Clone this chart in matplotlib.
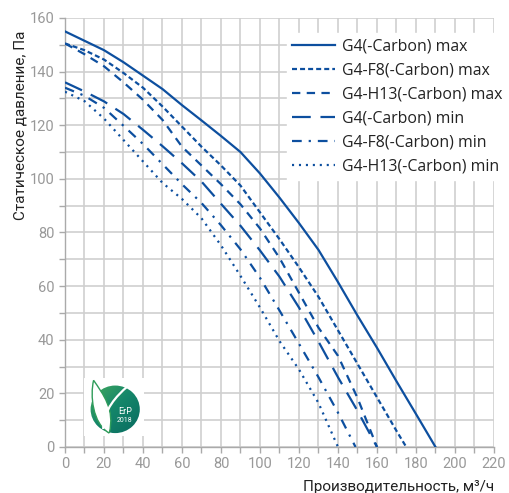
import numpy as np
import matplotlib
matplotlib.use("Agg")
import matplotlib.pyplot as plt
from matplotlib.patches import Circle, PathPatch
from matplotlib.path import Path

# Chart data
flow_g4_max = [0, 10, 20, 30, 40, 50, 60, 70, 80, 90, 100, 110, 120, 130, 140, 150, 160, 170, 180, 190]
pres_g4_max = [155, 151.5, 148, 143.5, 138.5, 133.5, 127.5, 121.8, 116, 110, 102, 93, 83.5, 73.5, 61.5, 49, 37, 24.5, 12.3, 0]

flow_f8_max = [0, 10, 20, 30, 40, 50, 60, 70, 80, 90, 100, 110, 120, 130, 140, 150, 160, 170, 175]
pres_f8_max = [150.5, 148, 144.5, 139.5, 134, 127, 119.5, 112, 105, 97.5, 87.5, 77.5, 67, 56, 43.5, 31, 18.5, 6, 0]

flow_h13_max = [0, 10, 20, 30, 40, 50, 60, 70, 80, 90, 100, 110, 120, 130, 140, 150, 160]
pres_h13_max = [150.5, 146.5, 142, 136, 129.5, 122, 112, 105, 98, 90.5, 81.5, 70.5, 57.5, 44.5, 34, 18.3, 0]

flow_g4_min = [0, 10, 20, 30, 40, 50, 60, 70, 80, 90, 100, 110, 120, 130, 140, 150, 160]
pres_g4_min = [136, 132.6, 128.9, 124.2, 118.3, 112.2, 105.8, 99, 90.7, 82.5, 73.3, 63.5, 52, 39.3, 26, 13.5, 0]

flow_f8_min = [0, 10, 20, 30, 40, 50, 60, 70, 80, 90, 100, 110, 120, 130, 140, 149]
pres_f8_min = [134, 131, 126.5, 119.8, 113, 105.5, 98, 91, 82.7, 73.7, 63.1, 50.9, 38.5, 26, 12.8, 0]

flow_h13_min = [0, 10, 20, 30, 40, 50, 60, 70, 80, 90, 100, 110, 120, 130, 140]
pres_h13_min = [132.5, 129, 122.5, 114.5, 106.5, 98.5, 92.5, 85.3, 75.2, 63.8, 52, 39.5, 28.9, 16.4, 0]

labels = ["G4(-Carbon) max", "G4-F8(-Carbon) max", "G4-H13(-Carbon) max",
          "G4(-Carbon) min", "G4-F8(-Carbon) min", "G4-H13(-Carbon) min"]

x_ticks = list(range(0, 221, 20))
y_ticks = list(range(0, 161, 20))

blue = "#0d4f9f"
grid_col = "#cfcfcf"
tick_col = "#999999"

plt.rcParams['font.family'] = ['Roboto', 'DejaVu Sans']
plt.rcParams['lines.scale_dashes'] = False

fig = plt.figure(figsize=(5.10, 4.93), dpi=100)
ax = fig.add_axes([65 / 510, 1 - 447 / 493, 429 / 510, 429 / 493])

styles = [
    "-",
    (0, (3.6, 2.2)),
    (0, (6.0, 4.6)),
    (0, (13.5, 7.0)),
    (0, (7.0, 5.0, 1.6, 5.0)),
    (0, (1.5, 3.5)),
]
series = [(flow_g4_max, pres_g4_max), (flow_f8_max, pres_f8_max), (flow_h13_max, pres_h13_max),
          (flow_g4_min, pres_g4_min), (flow_f8_min, pres_f8_min), (flow_h13_min, pres_h13_min)]

for (xs, ys), ls, lab in zip(series, styles, labels):
    ax.plot(xs, ys, color=blue, lw=1.6, linestyle=ls, label=lab, zorder=3,
            dash_capstyle='butt')

ax.set_xlim(0, 220)
ax.set_ylim(0, 160)
ax.set_xticks(x_ticks)
ax.set_yticks(y_ticks)
ax.set_xticks(range(0, 221, 10), minor=True)
ax.set_yticks(range(0, 161, 10), minor=True)
ax.grid(True, which='both', color=grid_col, lw=1.2, zorder=0)
ax.set_axisbelow(True)
for s in ['top', 'right']:
    ax.spines[s].set_visible(False)
for s in ['left', 'bottom']:
    ax.spines[s].set_color('#aaaaaa')
    ax.spines[s].set_linewidth(1.0)
ax.tick_params(which='both', colors='#aaaaaa', length=4, width=1.0, labelcolor=tick_col, labelsize=10.5)

ax.set_xlabel("Производительность, м³/ч", loc='right', fontsize=11, color='#222222', labelpad=6)
ax.set_ylabel("Статическое давление, Па", fontsize=11, color='#222222')
ax.yaxis.set_label_coords(-0.088, 0.75)

leg = ax.legend(loc='upper right', bbox_to_anchor=(508 / 510, 1 - 33 / 493), bbox_transform=fig.transFigure,
                frameon=True, fancybox=False, edgecolor='white', facecolor='white', framealpha=1,
                prop={'family': ['Open Sans', 'DejaVu Sans'], 'size': 11.4},
                labelspacing=0.5, handlelength=2.7, handletextpad=0.45,
                borderpad=0.35, borderaxespad=0)
for t in leg.get_texts():
    t.set_color('#222222')
leg.set_zorder(5)

# ErP 2018 badge
lax = fig.add_axes([84 / 510, 1 - 436 / 493, 60 / 510, 58 / 493])
lax.set_xlim(0, 1)
lax.set_ylim(0, 1)
lax.axis('off')
lax.add_patch(plt.Rectangle((0, 0), 1, 1, color='white', zorder=0))
circ = Circle((0.52, 0.46), 0.41, transform=lax.transData, facecolor='none', edgecolor='none')
lax.add_patch(circ)
gx, gy = np.meshgrid(np.linspace(0, 1, 60), np.linspace(0, 1, 60))
grad = gx - gy
img = lax.imshow(grad, extent=(0, 1, 0, 1), origin='lower', cmap=matplotlib.colors.LinearSegmentedColormap.from_list(
    'erp', ['#52b35a', '#15876a', '#08675f']), zorder=1, aspect='auto')
img.set_clip_path(circ)
leaf = Path([(0.42, 0.05), (0.14, 0.22), (0.10, 0.70), (0.16, 0.96),
             (0.32, 0.72), (0.52, 0.45), (0.42, 0.05)],
            [Path.MOVETO, Path.CURVE4, Path.CURVE4, Path.CURVE4,
             Path.CURVE4, Path.CURVE4, Path.CURVE4])
lax.add_patch(PathPatch(leaf, facecolor='white', edgecolor='#2f9c5a', lw=1.0, zorder=2))
stem = Path([(0.32, 0.12), (0.32, 0.45), (0.55, 0.70), (0.72, 0.85)],
            [Path.MOVETO, Path.CURVE4, Path.CURVE4, Path.CURVE4])
lax.add_patch(PathPatch(stem, facecolor='none', edgecolor='white', lw=1.6, zorder=3))
lax.text(0.68, 0.43, "ErP", color='white', fontsize=6.5, ha='center', va='center', zorder=4)
lax.text(0.68, 0.26, "2018", color='white', fontsize=5, ha='center', va='center', zorder=4)

fig.savefig("out.png", dpi=100)
